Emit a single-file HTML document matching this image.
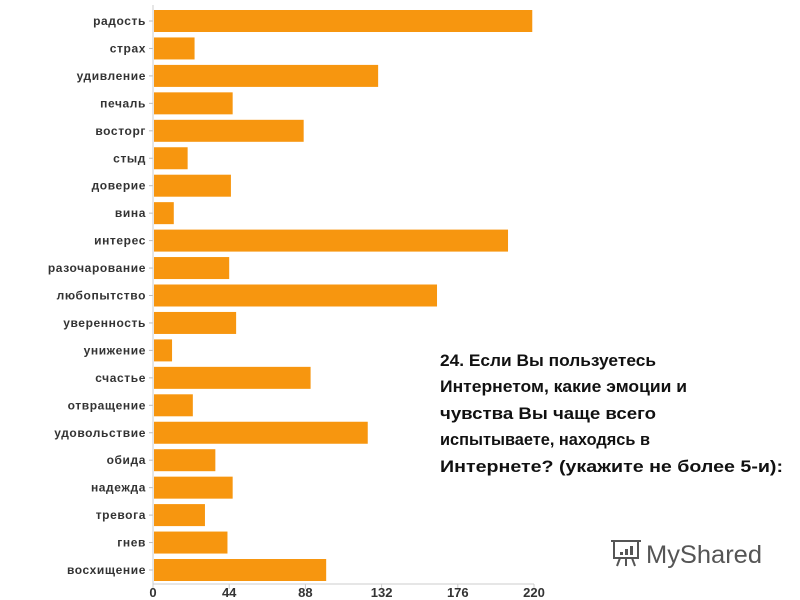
<!DOCTYPE html>
<html><head><meta charset="utf-8"><style>
body{margin:0;background:#fff;}
svg{display:block;font-family:"Liberation Sans",sans-serif;}
</style></head><body>
<svg id="chart" width="800" height="600" viewBox="0 0 800 600">
<g id="bars"></g>
<g id="ylabels"></g>
<g id="xaxis"></g>
<g font-weight="bold" font-size="17" fill="#111">
<text x="440" y="366" textLength="216" lengthAdjust="spacingAndGlyphs">24. Если Вы пользуетесь</text>
<text x="440" y="392" textLength="247" lengthAdjust="spacingAndGlyphs">Интернетом, какие эмоции и</text>
<text x="440" y="419" textLength="216" lengthAdjust="spacingAndGlyphs">чувства Вы чаще всего</text>
<text x="440" y="445" textLength="210" lengthAdjust="spacingAndGlyphs">испытываете, находясь в</text>
<text x="440" y="472" textLength="343" lengthAdjust="spacingAndGlyphs">Интернете? (укажите не более 5-и):</text>
</g>
<g>
<g fill="none" stroke="#555" stroke-width="2">
<rect x="614" y="541" width="24" height="17"/>
<path d="M611 541 h30 M620 558 l-3 8 M632 558 l3 8 M626 558 v8"/>
</g>
<rect x="620" y="552" width="3" height="3" fill="#555"/><rect x="625" y="549" width="3" height="6" fill="#555"/><rect x="630" y="546" width="3" height="9" fill="#555"/>
<text x="646" y="563" font-size="25" fill="#555" textLength="116" lengthAdjust="spacingAndGlyphs">MyShared</text>
</g>
</svg>
<script>
const categories=["радость","страх","удивление","печаль","восторг","стыд","доверие","вина","интерес","разочарование","любопытство","уверенность","унижение","счастье","отвращение","удовольствие","обида","надежда","тревога","гнев","восхищение"];
const values=[219,24,130,46,87,20,45,12,205,44,164,48,11,91,23,124,36,46,30,43,100];
const ticks=[0,44,88,132,176,220];
const NS="http://www.w3.org/2000/svg";
const x0=153,x1=534,vmax=220;
function xs(v){return x0+(v/vmax)*(x1-x0);}
const top0=10,step=27.45,bh=22;
function yc(i){return top0+bh/2+i*step;}
function mk(t,a,p){const e=document.createElementNS(NS,t);for(const k in a)e.setAttribute(k,a[k]);p.appendChild(e);return e;}
const gb=document.getElementById('bars'),gl=document.getElementById('ylabels'),gx=document.getElementById('xaxis');
mk('line',{x1:x0,y1:5,x2:x0,y2:584,stroke:'#ccc','stroke-width':1},gx);
mk('line',{x1:x0,y1:584,x2:x1,y2:584,stroke:'#ccc','stroke-width':1},gx);
categories.forEach((c,i)=>{
 const r=mk('rect',{x:x0+1,y:yc(i)-bh/2,width:xs(values[i])-x0-1,height:bh,fill:'#f7960f'},gb);
 
 
 const t=mk('text',{x:146,y:yc(i)+4,'text-anchor':'end','font-size':12,'font-weight':'bold',fill:'#333','letter-spacing':'0.6'},gl);
 t.textContent=c;
 
 
 mk('line',{x1:x0-4,y1:yc(i),x2:x0,y2:yc(i),stroke:'#bbb'},gl);
});
ticks.forEach(v=>{
 mk('line',{x1:xs(v),y1:584,x2:xs(v),y2:589,stroke:'#ccc'},gx);
 const t=mk('text',{x:xs(v),y:597,'text-anchor':'middle','font-size':13,'font-weight':'bold',fill:'#333'},gx);
 t.textContent=v;
 
 
});
</script>
</body></html>
